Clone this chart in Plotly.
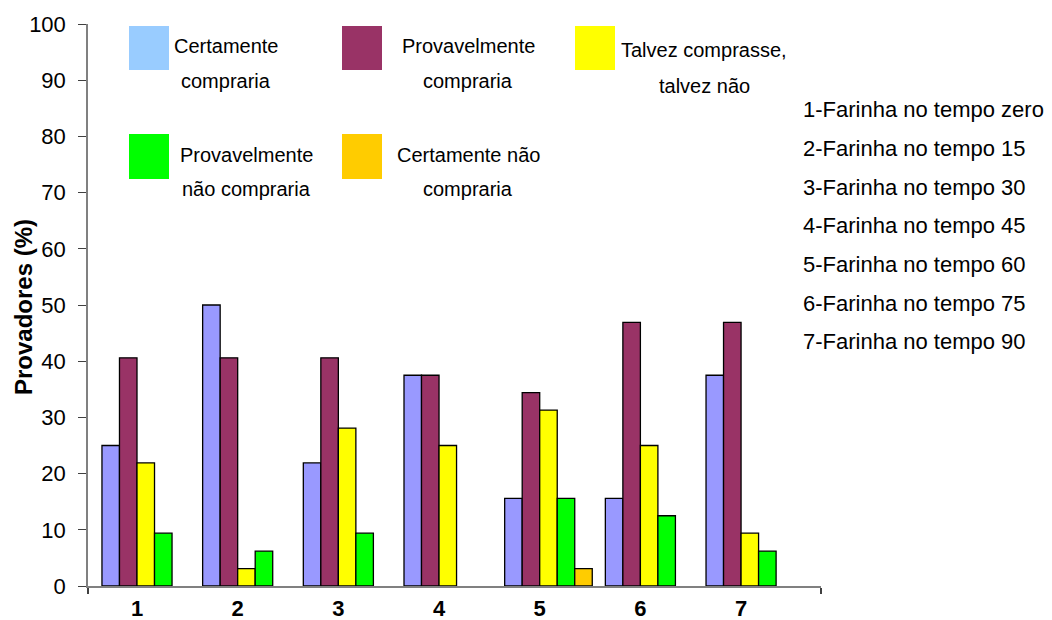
import plotly.graph_objects as go

# Amostras (tempo de armazenamento da farinha)
amostras = [1, 2, 3, 4, 5, 6, 7]
rotulos_amostras = ["1", "2", "3", "4", "5", "6", "7"]

# Intenção de compra (% de provadores)
certamente_compraria = [25.0, 50.0, 21.9, 37.5, 15.6, 15.6, 37.5]
provavelmente_compraria = [40.6, 40.6, 40.6, 37.5, 34.4, 46.9, 46.9]
talvez_comprasse = [21.9, 3.1, 28.1, 25.0, 31.3, 25.0, 9.4]
provavelmente_nao_compraria = [9.4, 6.2, 9.4, 0.0, 15.6, 12.5, 6.2]
certamente_nao_compraria = [0.0, 0.0, 0.0, 0.0, 3.1, 0.0, 0.0]

y_ticks = [0, 10, 20, 30, 40, 50, 60, 70, 80, 90, 100]

descricao_amostras = [
    "1-Farinha no tempo zero",
    "2-Farinha no tempo 15",
    "3-Farinha no tempo 30",
    "4-Farinha no tempo 45",
    "5-Farinha no tempo 60",
    "6-Farinha no tempo 75",
    "7-Farinha no tempo 90",
]

FONT = "Arial, 'Liberation Sans', sans-serif"
W, H = 1052, 620
ML, MR, MT, MB = 88, 231, 24, 34
PW, PH = W - ML - MR, H - MT - MB


def px_x(px):
    return (px - ML) / PW


def px_y(py):
    return (H - MB - py) / PH


bw = 0.174  # largura de cada barra (unidades do eixo x)
series = [
    ("Certamente compraria", certamente_compraria, "#9999FF", -2),
    ("Provavelmente compraria", provavelmente_compraria, "#993366", -1),
    ("Talvez comprasse, talvez não", talvez_comprasse, "#FFFF00", 0),
    ("Provavelmente não compraria", provavelmente_nao_compraria, "#00FF00", 1),
    ("Certamente não compraria", certamente_nao_compraria, "#FFCC00", 2),
]

fig = go.Figure()
for nome, vals, cor, k in series:
    # valores nulos não geram barra
    fig.add_trace(go.Bar(
        x=amostras, y=[v if v > 0 else None for v in vals], name=nome,
        width=bw, offset=k * bw,
        marker=dict(color=cor, line=dict(color="#000000", width=1.3)),
        showlegend=False,
    ))

# Legenda desenhada: quadrados coloridos + texto centrado em duas linhas
legenda = [
    # (x0, x1, y0, y1) do quadrado, centro x do texto, linhas, centros y
    ((129, 169, 26, 70), 226, ["Certamente", "compraria"], [46, 81], "#99CCFF"),
    ((342, 382, 26, 70), 468, ["Provavelmente", "compraria"], [46, 81], "#993366"),
    ((575, 615, 26, 70), 704, ["Talvez comprasse,", "talvez não"], [50, 86], "#FFFF00"),
    ((129, 169, 134, 179), 246, ["Provavelmente", "não compraria"], [155, 189], "#00FF00"),
    ((342, 382, 134, 179), 468, ["Certamente não", "compraria"], [155, 189], "#FFCC00"),
]
shapes = []
annotations = []
for (x0, x1, y0, y1), tx, linhas, ys, cor in legenda:
    shapes.append(dict(type="rect", xref="paper", yref="paper",
                       x0=px_x(x0), x1=px_x(x1), y0=px_y(y1), y1=px_y(y0),
                       fillcolor=cor, line=dict(width=0)))
    for txt, ty in zip(linhas, ys):
        annotations.append(dict(text=txt, xref="paper", yref="paper",
                                x=px_x(tx), y=px_y(ty), xanchor="center", yanchor="middle",
                                showarrow=False, font=dict(family=FONT, size=20, color="#000000")))

# Descrição das amostras à direita
for i, txt in enumerate(descricao_amostras):
    annotations.append(dict(text=txt, xref="paper", yref="paper",
                            x=px_x(801), y=px_y(110 + 38.6 * i), xanchor="left", yanchor="middle",
                            showarrow=False, font=dict(family=FONT, size=22, color="#000000")))

# Título do eixo y
annotations.append(dict(text="<b>Provadores (%)</b>", xref="paper", yref="paper",
                        x=px_x(23), y=px_y(307), xanchor="center", yanchor="middle",
                        textangle=-90, showarrow=False,
                        font=dict(family=FONT, size=24, color="#000000")))

fig.update_layout(
    width=W, height=H,
    margin=dict(l=ML, r=MR, t=MT, b=MB, pad=0),
    paper_bgcolor="#FFFFFF", plot_bgcolor="#FFFFFF",
    barmode="overlay",
    font=dict(family=FONT, color="#000000"),
    shapes=shapes,
    annotations=annotations,
    xaxis=dict(
        range=[0.5133, 7.794], automargin=False,
        tickmode="array", tickvals=amostras, ticktext=rotulos_amostras,
        ticks="", showgrid=False, zeroline=False,
        showline=True, linecolor="#808080", linewidth=1.5,
        tickfont=dict(family=FONT, size=22, color="#000000", weight="bold"),
        ticklabelstandoff=2,
        minor=dict(tickvals=[0.5133, 7.794], ticks="outside", ticklen=6,
                   tickcolor="#404040", tickwidth=1.5, showgrid=False),
    ),
    yaxis=dict(
        range=[0, 100], automargin=False,
        tickmode="array", tickvals=y_ticks,
        ticks="outside", ticklen=8, tickcolor="#404040", tickwidth=1.3,
        showgrid=False, zeroline=False,
        showline=True, linecolor="#808080", linewidth=1.5,
        tickfont=dict(family=FONT, size=22, color="#000000"),
        ticklabelstandoff=8,
    ),
)

fig.write_html("out.html")
